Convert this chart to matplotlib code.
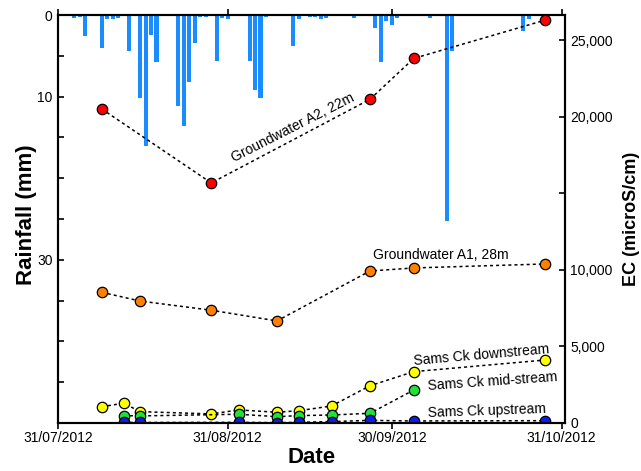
import matplotlib
matplotlib.use("Agg")
import matplotlib.pyplot as plt
import pandas as pd

plt.rcParams['font.family'] = ['Liberation Sans', 'DejaVu Sans']

# Daily rainfall (mm)
rain_dates = ["2012-08-03", "2012-08-04", "2012-08-05", "2012-08-08", "2012-08-09", "2012-08-10",
              "2012-08-11", "2012-08-13", "2012-08-14", "2012-08-15", "2012-08-16", "2012-08-17",
              "2012-08-18", "2012-08-19", "2012-08-22", "2012-08-23", "2012-08-24", "2012-08-25",
              "2012-08-26", "2012-08-27", "2012-08-29", "2012-08-30", "2012-08-31", "2012-09-04",
              "2012-09-05", "2012-09-06", "2012-09-07", "2012-09-12", "2012-09-13", "2012-09-15",
              "2012-09-16", "2012-09-17", "2012-09-18", "2012-09-23", "2012-09-27", "2012-09-28",
              "2012-09-29", "2012-09-30", "2012-10-01", "2012-10-05", "2012-10-07", "2012-10-10",
              "2012-10-11", "2012-10-24", "2012-10-25"]
rain_mm = [0.4, 0.2, 2.6, 4.0, 0.5, 0.5,
           0.3, 4.35, 0.1, 10.2, 16.0, 2.5,
           5.8, 0.1, 11.2, 13.6, 8.2, 3.4,
           0.2, 0.2, 5.6, 0.3, 0.5, 5.6,
           9.2, 10.2, 0.2, 3.8, 0.5, 0.2,
           0.2, 0.5, 0.3, 0.4, 1.6, 5.8,
           0.7, 1.2, 0.3, 0.1, 0.3, 25.2,
           4.35, 2.0, 0.45]

# EC series (microS/cm)
a2_dates = ["2012-08-08", "2012-08-28", "2012-09-26", "2012-10-04", "2012-10-28"]
a2_ec = [20500, 15670, 21130, 23800, 26300]

a1_dates = ["2012-08-08", "2012-08-15", "2012-08-28", "2012-09-09", "2012-09-26", "2012-10-04", "2012-10-28"]
a1_ec = [8530, 7960, 7360, 6660, 9920, 10120, 10380]

down_dates = ["2012-08-08", "2012-08-12", "2012-08-15", "2012-08-28", "2012-09-02", "2012-09-09",
              "2012-09-13", "2012-09-19", "2012-09-26", "2012-10-04", "2012-10-28"]
down_ec = [1060, 1290, 740, 590, 850, 700, 800, 1110, 2430, 3350, 4110]

mid_dates = ["2012-08-12", "2012-08-15", "2012-09-02", "2012-09-09", "2012-09-13", "2012-09-19",
             "2012-09-26", "2012-10-04"]
mid_ec = [480, 460, 570, 410, 480, 520, 630, 2150]

up_dates = ["2012-08-12", "2012-08-15", "2012-09-02", "2012-09-09", "2012-09-13", "2012-09-19",
            "2012-09-26", "2012-10-04", "2012-10-28"]
up_ec = [30, 30, 40, 20, 40, 90, 170, 130, 150]

x_ticks = ["2012-07-31", "2012-08-31", "2012-09-30", "2012-10-31"]
x_tick_labels = ["31/07/2012", "31/08/2012", "30/09/2012", "31/10/2012"]
rain_ticks = [0, 5, 10, 15, 20, 25, 30, 35, 40, 45, 50]
rain_tick_labels = ["0", "", "10", "", "", "", "30", "", "", "", ""]
ec_ticks = [0, 5000, 10000, 15000, 20000, 25000]
ec_tick_labels = ["0", "5,000", "10,000", "", "20,000", "25,000"]

fig = plt.figure(figsize=(6.41, 4.71), dpi=100)
ax = fig.add_axes([0.0905, 0.102, 0.7905, 0.866])
ax2 = ax.twinx()

dt = lambda L: pd.to_datetime(L)

ax.bar(dt(rain_dates), rain_mm, width=0.75, color="#1a8cff", edgecolor="none", zorder=2)
ax.set_ylim(50, 0)
ax.set_xlim(pd.Timestamp("2012-07-31"), pd.Timestamp("2012-10-31 14:00"))
ax.set_yticks(rain_ticks)
ax.set_yticklabels(rain_tick_labels)
ax.set_xticks(dt(x_ticks))
ax.set_xticklabels(x_tick_labels)

ax2.set_ylim(0, 26630)
ax2.set_yticks(ec_ticks)
ax2.set_yticklabels(ec_tick_labels)

line_kw = dict(color="black", linestyle=(0, (2, 2)), linewidth=1.1, marker="o",
               markersize=7.5, markeredgecolor="black", markeredgewidth=0.9)
ax2.plot(dt(a1_dates), a1_ec, markerfacecolor="#ff8000", **line_kw)
ax2.plot(dt(a2_dates), a2_ec, markerfacecolor="#ff0000", **line_kw)
ax2.plot(dt(down_dates), down_ec, markerfacecolor="#ffff00", **line_kw)
ax2.plot(dt(mid_dates), mid_ec, markerfacecolor="#22e03c", **line_kw)
ax2.plot(dt(up_dates), up_ec, markerfacecolor="#0a1ef0", **line_kw)

for a in (ax, ax2):
    for s in a.spines.values():
        s.set_linewidth(1.5)

ax.tick_params(axis="y", direction="in", length=4, width=1.2, labelsize=10, pad=4)
ax.tick_params(axis="x", direction="out", length=4, width=1.2, labelsize=10, top=True, pad=2)
ax2.tick_params(axis="y", direction="in", length=4, width=1.2, labelsize=10, pad=4)

ax.set_ylabel("Rainfall (mm)", fontsize=16, fontweight="bold")
ax.yaxis.set_label_coords(-0.041, 0.51)
ax.set_xlabel("Date", fontsize=16, fontweight="bold", labelpad=1)
ax2.set_ylabel("EC (microS/cm)", fontsize=13, fontweight="bold", labelpad=7)

txt_kw = dict(fontsize=10, ha="center", va="center")
ax2.text(pd.Timestamp("2012-09-12"), 19250, "Groundwater A2, 22m", rotation=27, **txt_kw)
ax2.text(pd.Timestamp("2012-10-09"), 10950, "Groundwater A1, 28m", rotation=0, **txt_kw)
ax2.text(pd.Timestamp("2012-10-16 08:00"), 4400, "Sams Ck downstream", rotation=5, **txt_kw)
ax2.text(pd.Timestamp("2012-10-18 08:00"), 2700, "Sams Ck mid-stream", rotation=4, **txt_kw)
ax2.text(pd.Timestamp("2012-10-17 08:00"), 810, "Sams Ck upstream", rotation=2, **txt_kw)

fig.savefig("out.png", dpi=100)
